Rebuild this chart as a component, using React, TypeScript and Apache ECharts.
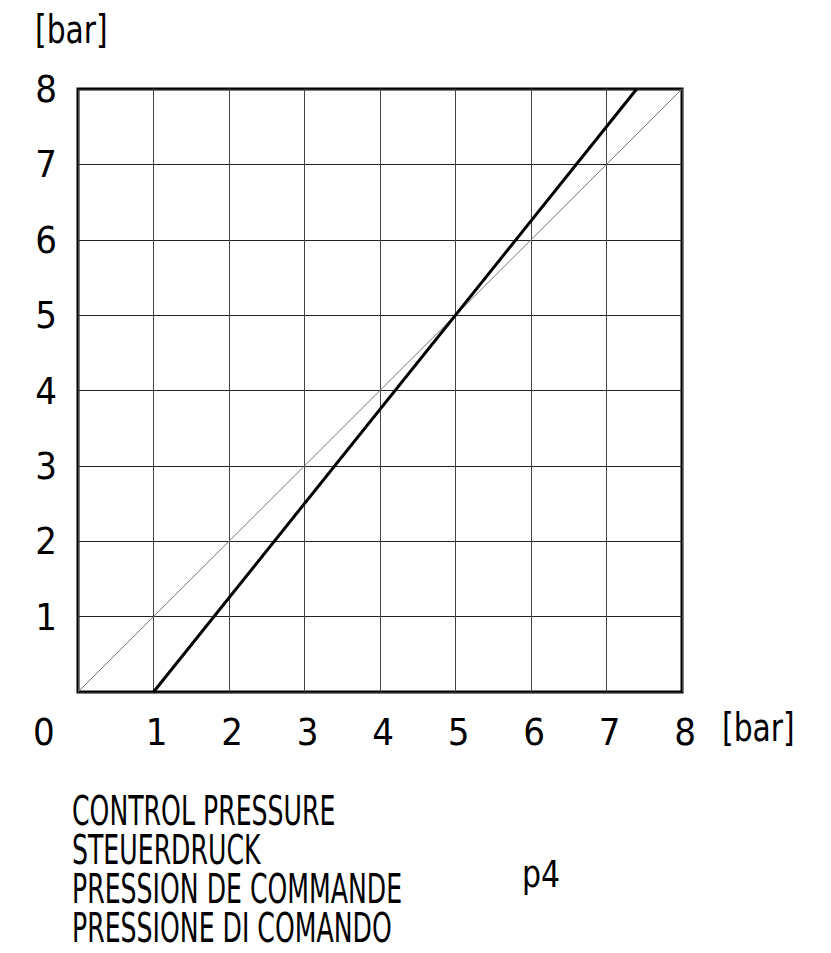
import React, { useEffect, useRef } from "react";
import * as echarts from "echarts";

const xTicks = [0, 1, 2, 3, 4, 5, 6, 7, 8];
const yTicks = [0, 1, 2, 3, 4, 5, 6, 7, 8];
const referenceLine: [number, number][] = [
  [0, 0],
  [8, 8],
];
const controlCurve: [number, number][] = [
  [1, 0],
  [7.4, 8],
];
const unitLabel = "[bar]";
const captionLines = [
  "CONTROL PRESSURE",
  "STEUERDRUCK",
  "PRESSION DE COMMANDE",
  "PRESSIONE DI COMANDO",
];
const symbolLabel = "p4";
const originLabel = "0";

const FONT = "'Liberation Sans Narrow', 'DejaVu Sans Condensed', sans-serif";

export default function App() {
  const ref = useRef<HTMLDivElement>(null);
  useEffect(() => {
    if (!ref.current) return;
    const chart = echarts.init(ref.current, null, { renderer: "svg" });
    const textStyle = (size: number) => ({
      fill: "#000",
      fontSize: size,
      fontFamily: FONT,
    });
    chart.setOption({
      animation: false,
      backgroundColor: "#fff",
      grid: {
        left: 78,
        top: 89,
        right: 149,
        bottom: 261,
        show: true,
        borderColor: "#000",
        borderWidth: 3,
        containLabel: false,
      },
      xAxis: {
        type: "value",
        min: xTicks[0],
        max: xTicks[xTicks.length - 1],
        interval: 1,
        axisLine: { show: false },
        axisTick: { show: false },
        splitLine: { show: true, lineStyle: { color: "#444", width: 1 } },
        axisLabel: {
          margin: 21,
          color: "#000",
          fontSize: 38,
          fontFamily: FONT,
          padding: [0, 0, 0, 6],
          formatter: (v: number) => (v === 0 ? "" : String(v)),
        },
      },
      yAxis: {
        type: "value",
        min: yTicks[0],
        max: yTicks[yTicks.length - 1],
        interval: 1,
        axisLine: { show: false },
        axisTick: { show: false },
        splitLine: { show: true, lineStyle: { color: "#222", width: 1 } },
        axisLabel: {
          margin: 21,
          color: "#000",
          fontSize: 38,
          fontFamily: FONT,
          formatter: (v: number) => (v === 0 ? "" : String(v)),
        },
      },
      series: [
        {
          type: "line",
          data: referenceLine,
          showSymbol: false,
          lineStyle: { color: "#777", width: 1 },
          z: 3,
        },
        {
          type: "line",
          data: controlCurve,
          showSymbol: false,
          lineStyle: { color: "#000", width: 3 },
          z: 4,
        },
      ],
      graphic: [
        {
          type: "text",
          x: 35,
          y: 10,
          scaleX: 0.85,
          style: { ...textStyle(39), text: unitLabel },
        },
        {
          type: "text",
          x: 722,
          y: 708,
          scaleX: 0.85,
          style: { ...textStyle(39), text: unitLabel },
        },
        {
          type: "text",
          left: 33,
          top: 713,
          style: { ...textStyle(38), text: originLabel },
        },
        {
          type: "text",
          x: 522,
          y: 855,
          scaleX: 0.9,
          style: { ...textStyle(37), text: symbolLabel },
        },
        ...captionLines.map((line, i) => ({
          type: "text",
          x: 72,
          y: 791 + i * 39,
          scaleX: 0.7,
          style: { ...textStyle(40), text: line },
        })),
      ],
    });
    return () => chart.dispose();
  }, []);
  return (
    <div
      ref={ref}
      style={{ position: "fixed", left: 0, top: 0, width: 831, height: 953 }}
    />
  );
}
